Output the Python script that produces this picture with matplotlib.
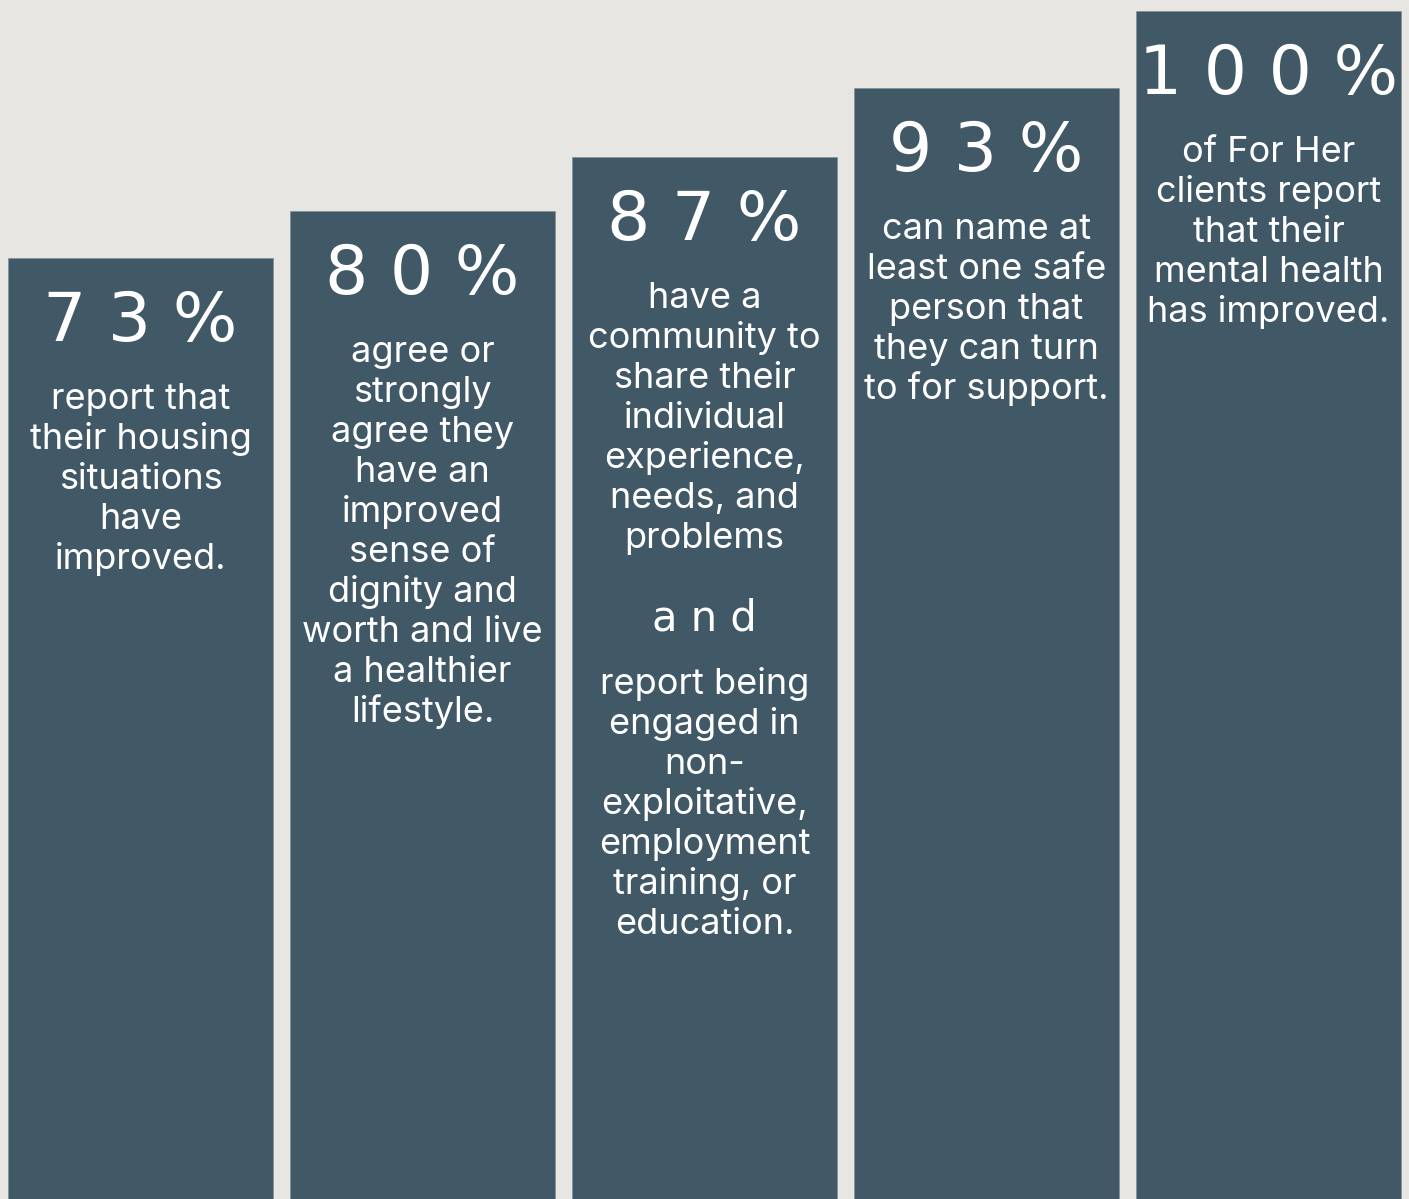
import matplotlib

matplotlib.use("Agg")
import matplotlib.pyplot as plt

labels = ["73%", "80%", "87%", "93%", "100%"]
# drawn bar heights (relative to the tallest bar), as measured on the picture
bar_heights = [79.2, 83.2, 87.7, 93.5, 100.0]
descriptions = [
    ["report that", "their housing", "situations", "have", "improved."],
    ["agree or", "strongly", "agree they", "have an", "improved", "sense of",
     "dignity and", "worth and live", "a healthier", "lifestyle."],
    ["have a", "community to", "share their", "individual", "experience,",
     "needs, and", "problems", "and", "report being", "engaged in", "non-",
     "exploitative,", "employment", "training, or", "education."],
    ["can name at", "least one safe", "person that", "they can turn",
     "to for support."],
    ["of For Her", "clients report", "that their", "mental health",
     "has improved."],
]

BG = "#e8e6e2"
BAR = "#415866"
HEAD_FONT = "DejaVu Sans"
BODY_FONT = "Inter"

fig = plt.figure(figsize=(14.09, 11.99), dpi=100, facecolor=BG)
ax = fig.add_axes([0, 0, 1, 1])
ax.set_facecolor(BG)

x = list(range(len(labels)))
ax.bar(x, bar_heights, width=0.94, color=BAR, edgecolor="#7d8d97", linewidth=0.4)
ax.set_xlim(-0.498, 4.498)
ax.set_ylim(0, 100 * 1199 / 1188)
ax.axis("off")


def spaced(s):
    # the original headline face is very wide; open up the tracking
    return " ".join(s)


for i, (lab, h, lines) in enumerate(zip(labels, bar_heights, descriptions)):
    ax.annotate(spaced(lab), xy=(i, h), xytext=(0, -83), textcoords="offset pixels",
                ha="center", va="baseline", color="white", fontsize=49,
                family=HEAD_FONT)
    off = 151
    for j, line in enumerate(lines):
        if line == "and":
            off += 42
            ax.annotate(spaced(line), xy=(i, h), xytext=(0, -off),
                        textcoords="offset pixels", ha="center", va="baseline",
                        color="white", fontsize=30, family=HEAD_FONT)
            off += 64
            continue
        ax.annotate(line, xy=(i, h), xytext=(0, -off), textcoords="offset pixels",
                    ha="center", va="baseline", color="white", fontsize=26,
                    family=BODY_FONT)
        off += 40

fig.savefig("out.png", dpi=100, facecolor=BG)
